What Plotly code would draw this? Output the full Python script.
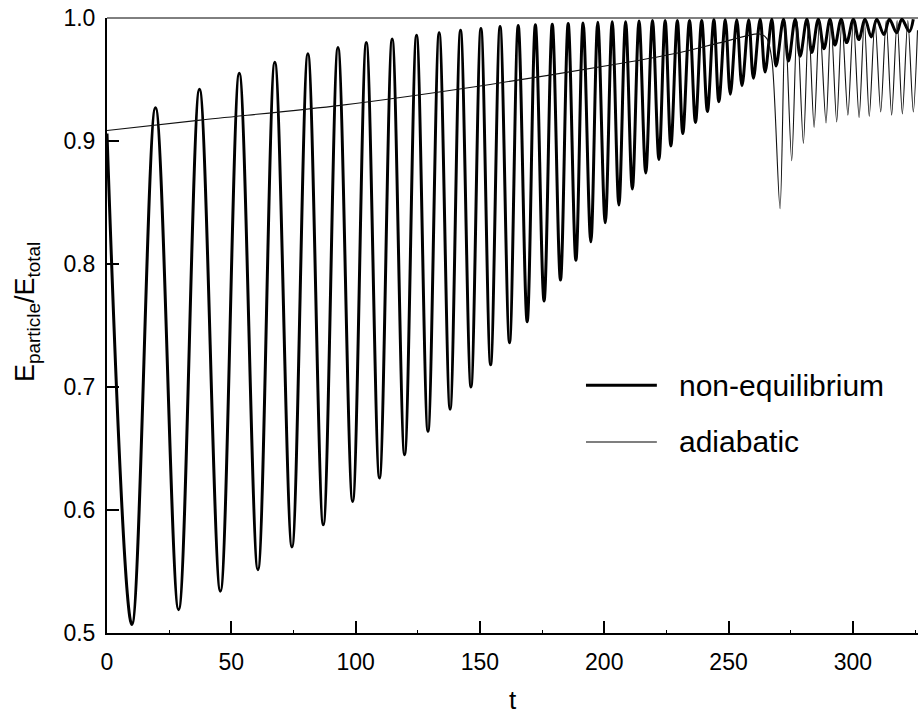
import plotly.graph_objects as go

# non-equilibrium: successive extrema (t, value)
t_noneq = [0, 10.0, 19.5, 28.8, 37.2, 45.6, 53.2, 60.7, 67.5, 74.4, 80.8, 87.0,
           92.9, 98.8, 104.3, 109.6, 114.7, 119.7, 124.5, 129.1, 133.6, 138.0,
           142.2, 146.4, 150.4, 154.3, 158.1, 161.9, 165.4, 169.0, 172.3, 175.8,
           179.1, 182.4, 185.5, 188.6, 191.5, 194.6, 197.4, 200.4, 203.2, 205.9,
           208.6, 211.3, 214.0, 216.7, 219.4, 222.0, 224.5, 226.8, 229.4, 231.6,
           234.3, 236.7, 239.2, 241.5, 244.1, 246.1, 248.7, 250.7, 253.3, 255.4,
           258.1, 260.0, 262.7, 264.7, 267.4, 269.1, 272.1, 274.1, 276.8, 278.8,
           281.5, 283.5, 286.1, 288.4, 290.8, 292.8, 295.3, 297.5, 300.2, 302.4,
           304.9, 307.4, 309.6, 312.5, 314.7, 317.6, 319.7, 322.7, 324.3]
e_noneq = [0.906, 0.507, 0.927, 0.519, 0.942, 0.534, 0.955, 0.5515, 0.964, 0.570,
           0.971, 0.588, 0.976, 0.607, 0.980, 0.626, 0.983, 0.645, 0.986, 0.664,
           0.988, 0.682, 0.990, 0.700, 0.9915, 0.718, 0.993, 0.736, 0.994, 0.753,
           0.9945, 0.770, 0.995, 0.787, 0.9955, 0.803, 0.996, 0.818, 0.9965, 0.8335,
           0.997, 0.848, 0.997, 0.861, 0.9975, 0.874, 0.998, 0.885, 0.998, 0.896,
           0.998, 0.906, 0.998, 0.915, 0.998, 0.924, 0.9985, 0.932, 0.9985, 0.938,
           0.9985, 0.945, 0.9985, 0.951, 0.999, 0.956, 0.999, 0.961, 0.999, 0.965,
           0.999, 0.969, 0.999, 0.972, 0.999, 0.975, 0.999, 0.978, 0.999, 0.980,
           0.999, 0.9825, 0.999, 0.9845, 0.999, 0.9865, 0.999, 0.988, 0.999, 0.989,
           0.999]

# adiabatic
t_adiab = [0, 37.5, 93.8, 154.1, 206.4, 230.5, 246.8, 262.5, 265.5, 267.5, 270.7,
           272.8, 275.4, 277.6, 280.1, 282.2, 284.4, 286.6, 289.2, 291.2, 293.5,
           295.6, 298.0, 300.2, 302.5, 304.6, 306.6, 308.9, 311.2, 313.4, 315.6,
           317.8, 319.9, 322.1, 324.3, 326.0]
e_adiab = [0.9085, 0.917, 0.929, 0.946, 0.963, 0.972, 0.980, 0.987, 0.983, 0.965,
           0.845, 0.996, 0.884, 0.997, 0.898, 0.997, 0.911, 0.998, 0.9146, 0.998,
           0.9154, 0.998, 0.921, 0.998, 0.919, 0.998, 0.920, 0.998, 0.9236, 0.998,
           0.921, 0.998, 0.922, 0.998, 0.9236, 0.99]

x_ticks = [0, 50, 100, 150, 200, 250, 300]
y_ticks = [0.5, 0.6, 0.7, 0.8, 0.9, 1.0]
y_tick_text = ["0.5", "0.6", "0.7", "0.8", "0.9", "1.0"]
series_names = ["non-equilibrium", "adiabatic"]
y_title = "E<sub>particle</sub>/E<sub>total</sub>"

FONT = "Liberation Sans, Arial, sans-serif"

fig = go.Figure()
fig.add_trace(go.Scatter(x=t_noneq, y=e_noneq, mode="lines", name=series_names[0],
                         line=dict(color="black", width=3, shape="spline", smoothing=1.0),
                         showlegend=False))
fig.add_trace(go.Scatter(x=t_adiab, y=e_adiab, mode="lines", name=series_names[1],
                         line=dict(color="#111111", width=1.1, shape="spline", smoothing=0.8),
                         showlegend=False))

# top frame line
fig.add_shape(type="line", xref="paper", yref="paper", x0=0, x1=1, y0=1, y1=1,
              line=dict(color="black", width=1))

# manual legend
leg_y = [0.4028, 0.3106]
leg_w = [3, 1.1]
for name, yy, w in zip(series_names, leg_y, leg_w):
    fig.add_shape(type="line", xref="paper", yref="paper", x0=0.5906, x1=0.678,
                  y0=yy, y1=yy, line=dict(color="black", width=w))
    fig.add_annotation(text=name, xref="paper", yref="paper", x=0.7024, y=yy,
                       xanchor="left", yanchor="middle", showarrow=False,
                       font=dict(family=FONT, size=30, color="black"))

# y axis title
fig.add_annotation(text=y_title, xref="paper", yref="paper", x=0, y=0.522,
                   xshift=-80, xanchor="center", yanchor="middle", textangle=-90,
                   showarrow=False, font=dict(family=FONT, size=27, color="black"))

fig.update_layout(
    width=918, height=715,
    margin=dict(l=107, r=0, t=18, b=82),
    paper_bgcolor="white", plot_bgcolor="white",
    font=dict(family=FONT, color="black"),
    xaxis=dict(range=[0, 326.2], tickvals=x_ticks, ticks="inside", ticklen=12,
               tickwidth=2, tickcolor="black", showline=True, linewidth=2,
               linecolor="black", showgrid=False, zeroline=False, automargin=False,
               ticklabeloverflow="allow", ticklabelstandoff=7,
               tickfont=dict(size=23, family=FONT),
               minor=dict(tickvals=[25, 75, 125, 175, 225, 275, 325], ticks="inside",
                          ticklen=3, tickwidth=1, tickcolor="black"),
               title=dict(text="t", font=dict(size=26, family=FONT), standoff=28)),
    yaxis=dict(range=[0.5, 1.0], tickvals=y_ticks, ticktext=y_tick_text,
               ticks="inside", ticklen=12, tickwidth=2, tickcolor="black",
               showline=True, linewidth=2, linecolor="black", showgrid=False,
               zeroline=False, automargin=False,
               ticklabeloverflow="allow", ticklabelstandoff=5,
               tickfont=dict(size=23, family=FONT)),
)

fig.write_html("out.html", config={"displayModeBar": False},
               post_script="document.body.style.margin='0';document.body.style.padding='0';")
